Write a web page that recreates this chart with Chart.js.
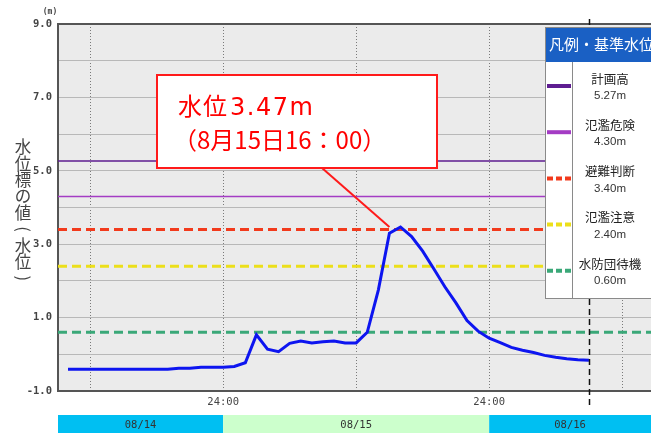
<!DOCTYPE html>
<html lang="ja">
<head>
<meta charset="utf-8">
<title>水位グラフ</title>
<script src="https://cdn.jsdelivr.net/npm/chart.js@4.4.1/dist/chart.umd.min.js"></script>
<style>
  html, body { margin: 0; padding: 0; background: #fff; }
  #wrap { width: 651px; height: 433px; position: relative; overflow: hidden; }
</style>
</head>
<body>
<div id="wrap"><canvas id="level-chart" width="651" height="433"></canvas></div>
<script>
// 時刻（8/14 0:00 からの経過時間 [h]）
const hours = [10, 11, 12, 13, 14, 15, 16, 17, 18, 19, 20, 21, 22, 23, 24, 25, 26, 27, 28, 29,
               30, 31, 32, 33, 34, 35, 36, 37, 38, 39, 40, 41, 42, 43, 44, 45, 46, 47, 48, 49,
               50, 51, 52, 53, 54, 55, 56, 57];
// 水位 [m]
const waterLevel = [-0.41, -0.41, -0.41, -0.41, -0.41, -0.41, -0.41, -0.41, -0.41, -0.41,
                    -0.38, -0.38, -0.35, -0.35, -0.35, -0.33, -0.23, 0.53, 0.14, 0.07,
                    0.30, 0.36, 0.31, 0.34, 0.36, 0.31, 0.31, 0.60, 1.75, 3.30,
                    3.47, 3.21, 2.81, 2.33, 1.84, 1.40, 0.92, 0.63, 0.44, 0.32,
                    0.19, 0.11, 0.05, -0.03, -0.08, -0.12, -0.15, -0.16];

// 基準水位
const levelNames = ['計画高', '氾濫危険', '避難判断', '氾濫注意', '水防団待機'];
const levelValues = [5.27, 4.30, 3.40, 2.40, 0.60];
const levelColors = ['#5e1d91', '#a43cc4', '#f23a1c', '#ecdf1a', '#3aa878'];
const levelDashed = [false, false, true, true, true];

// 軸・日付
const gridHours = [12, 24, 36, 48, 60];
const dayLabels = ['08/14', '08/15', '08/16'];
const dayStartHours = [0, 24, 48];
const dayColors = ['#00bff2', '#ccffcc', '#00bff2'];
const nowHour = 57;
const peakHour = 40;
const peakLevel = 3.47;
const calloutLabel = '水位';
const calloutValue = '3.47m';
const calloutTime = '（8月15日16：00）';
const yTitle = ['水', '位', '標', 'の', '値', '(', '水', '位', ')'];

const X_MIN = 9.1;
const X_MAX = 62.6;
const JP = '"Noto Sans CJK JP", sans-serif';
const MONO = '"DejaVu Sans Mono", monospace';

const levelDatasets = levelValues.map((v, i) => ({
    data: [{ x: X_MIN, y: v }, { x: X_MAX, y: v }],
    borderColor: levelColors[i],
    borderWidth: levelDashed[i] ? 3 : 1.5,
    borderDash: levelDashed[i] ? [9, 5] : [],
    pointRadius: 0,
    order: 2
}));

const decorPlugin = {
    id: 'decor',
    beforeDraw(chart) {
        const { ctx, chartArea: a } = chart;
        ctx.save();
        ctx.fillStyle = '#ebebeb';
        ctx.fillRect(a.left, a.top, a.right - a.left, a.bottom - a.top);
        ctx.restore();
    },
    afterDraw(chart) {
        const { ctx, chartArea: a } = chart;
        const xs = chart.scales.x;
        const ys = chart.scales.y;
        ctx.save();

        // 上枠
        ctx.strokeStyle = '#555';
        ctx.lineWidth = 2;
        ctx.beginPath();
        ctx.moveTo(a.left, a.top);
        ctx.lineTo(a.right, a.top);
        ctx.stroke();

        // 現在時刻
        const nx = Math.round(xs.getPixelForValue(nowHour)) + 0.5;
        ctx.strokeStyle = '#111';
        ctx.lineWidth = 1.5;
        ctx.setLineDash([6, 4]);
        ctx.beginPath();
        ctx.moveTo(nx, a.top - 5);
        ctx.lineTo(nx, a.bottom + 16);
        ctx.stroke();
        ctx.setLineDash([]);

        // 日付バー
        ctx.font = '10.5px ' + MONO;
        ctx.textAlign = 'center';
        ctx.textBaseline = 'middle';
        dayLabels.forEach((d, i) => {
            const x0 = Math.max(a.left, xs.getPixelForValue(dayStartHours[i]));
            const x1 = Math.min(a.right, xs.getPixelForValue(dayStartHours[i] + 24));
            ctx.fillStyle = dayColors[i];
            ctx.fillRect(x0, 415, x1 - x0, 18);
            ctx.fillStyle = '#333';
            ctx.fillText(d, (x0 + x1) / 2, 425);
        });

        // 縦軸タイトル（縦書き、括弧は回転）
        ctx.fillStyle = '#444';
        ctx.font = '16.5px ' + JP;
        yTitle.forEach((c, i) => {
            const cy = 147 + i * 16.4;
            if (c === '(' || c === ')') {
                ctx.save();
                ctx.translate(23, cy);
                ctx.rotate(Math.PI / 2);
                ctx.fillText(c, 0, 0);
                ctx.restore();
            } else {
                ctx.fillText(c, 23, cy);
            }
        });
        ctx.font = 'bold 8px ' + MONO;
        ctx.fillText('(m)', 50, 12);

        // 凡例
        const lx = 545, ly = 27, lh = 271, hh = 35, dx = 572;
        ctx.fillStyle = '#fff';
        ctx.fillRect(lx, ly, 651 - lx, lh);
        ctx.fillStyle = '#1a60c4';
        ctx.fillRect(lx, ly, 651 - lx, hh);
        ctx.strokeStyle = '#8a8a8a';
        ctx.lineWidth = 1;
        ctx.strokeRect(lx + 0.5, ly + 0.5, 651 - lx, lh);
        ctx.beginPath();
        ctx.moveTo(dx + 0.5, ly + hh);
        ctx.lineTo(dx + 0.5, ly + lh);
        ctx.stroke();
        ctx.fillStyle = '#fff';
        ctx.font = '15px ' + JP;
        ctx.textAlign = 'left';
        ctx.fillText('凡例・基準水位', lx + 4, ly + hh / 2);
        ctx.textAlign = 'center';
        levelNames.forEach((n, i) => {
            const ry = ly + hh + 17 + i * 46.2;
            ctx.strokeStyle = levelColors[i];
            ctx.lineWidth = 4;
            ctx.setLineDash(levelDashed[i] ? [6, 3] : []);
            ctx.beginPath();
            ctx.moveTo(lx + 2, ry + 7);
            ctx.lineTo(dx - 1, ry + 7);
            ctx.stroke();
            ctx.setLineDash([]);
            ctx.fillStyle = '#222';
            ctx.font = '12.5px ' + JP;
            ctx.fillText(n, 610, ry);
            ctx.fillStyle = '#333';
            ctx.font = '11.5px "Liberation Sans", sans-serif';
            ctx.fillText(levelValues[i].toFixed(2) + 'm', 610, ry + 17);
        });

        // 吹き出し
        const px = xs.getPixelForValue(peakHour - 1);
        const py = ys.getPixelForValue(peakLevel);
        ctx.strokeStyle = '#ff1a1a';
        ctx.lineWidth = 2;
        ctx.beginPath();
        ctx.moveTo(322, 168);
        ctx.lineTo(px, py);
        ctx.stroke();
        ctx.fillStyle = '#fff';
        ctx.fillRect(157, 75, 280, 93);
        ctx.strokeRect(157, 75, 280, 93);
        ctx.fillStyle = '#ff0000';
        ctx.textAlign = 'left';
        ctx.textBaseline = 'alphabetic';
        ctx.font = '24px ' + JP;
        ctx.letterSpacing = '1px';
        ctx.fillText(calloutLabel, 178, 115);
        const lw = ctx.measureText(calloutLabel).width;
        ctx.font = '24px "DejaVu Sans", sans-serif';
        ctx.letterSpacing = '1.5px';
        ctx.fillText(calloutValue, 178 + lw + 2, 115);
        ctx.font = '24px ' + JP;
        ctx.letterSpacing = '0px';
        ctx.fillText(calloutTime, 173, 149);

        ctx.restore();
    }
};

new Chart(document.getElementById('level-chart').getContext('2d'), {
    type: 'line',
    data: {
        datasets: [
            ...levelDatasets,
            {
                data: hours.map((h, i) => ({ x: h, y: waterLevel[i] })),
                borderColor: '#0d15f0',
                borderWidth: 3,
                pointRadius: 0,
                tension: 0,
                order: 1
            }
        ]
    },
    options: {
        responsive: false,
        animation: false,
        layout: { padding: { top: 24, right: 0, left: 0, bottom: 0 } },
        plugins: { legend: { display: false }, tooltip: { enabled: false } },
        scales: {
            x: {
                type: 'linear',
                min: X_MIN,
                max: X_MAX,
                afterBuildTicks: s => { s.ticks = gridHours.map(v => ({ value: v })); },
                afterFit: s => { s.height = 42; },
                grid: { color: '#7a7a7a', lineWidth: 1, drawTicks: false },
                border: { color: '#555', width: 2, dash: [1, 2] },
                ticks: {
                    padding: 5, maxRotation: 0, autoSkip: false, color: '#444',
                    font: { family: MONO, size: 10.5 },
                    callback: v => (v % 24 === 0 ? '24:00' : '')
                }
            },
            y: {
                min: -1,
                max: 9,
                afterFit: s => { s.width = 58; },
                grid: { color: '#b8b8b8', lineWidth: 1, drawTicks: false },
                border: { color: '#555', width: 2 },
                ticks: {
                    stepSize: 1, padding: 6, color: '#444',
                    font: { family: MONO, size: 10.5, weight: 'bold' },
                    callback: v => (Math.abs(v % 2) === 1 ? v.toFixed(1) : '')
                }
            }
        }
    },
    plugins: [decorPlugin]
});
</script>
</body>
</html>
